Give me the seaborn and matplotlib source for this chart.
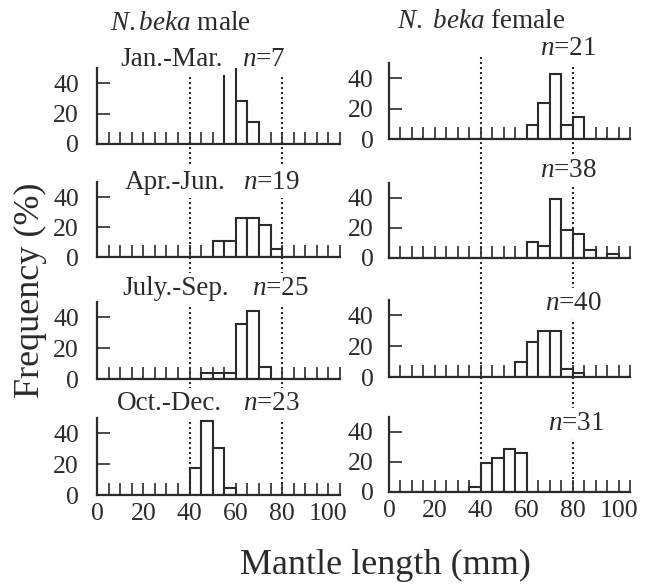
import numpy as np
import pandas as pd
import matplotlib
matplotlib.use("Agg")
import matplotlib.pyplot as plt
import matplotlib.transforms as mtransforms
from matplotlib.lines import Line2D
import seaborn as sns

sns.set_theme(style="ticks")
plt.rcParams["font.family"] = ["Liberation Serif", "DejaVu Serif"]
plt.rcParams["mathtext.fontset"] = "custom"
plt.rcParams["mathtext.rm"] = "Liberation Serif"
plt.rcParams["mathtext.it"] = "Liberation Serif:italic"

# ---------------- data ----------------
bin_edges = list(range(0, 110, 5))
periods = ["Jan.-Mar.", "Apr.-Jun.", "July.-Sep.", "Oct.-Dec."]
male_n = [7, 19, 25, 23]
female_n = [21, 38, 40, 31]

male_bins = [
    [55, 60, 65],
    [50, 55, 60, 65, 70, 75],
    [45, 50, 55, 60, 65, 70],
    [40, 45, 50, 55],
]
male_pct = [
    [57.1, 28.6, 14.3],
    [10.5, 10.5, 26.3, 26.3, 21.1, 5.3],
    [4.0, 4.0, 4.0, 36.0, 44.0, 8.0],
    [17.4, 47.8, 30.4, 4.3],
]
female_bins = [
    [60, 65, 70, 75, 80],
    [60, 65, 70, 75, 80, 85, 95],
    [55, 60, 65, 70, 75, 80],
    [35, 40, 45, 50, 55],
]
female_pct = [
    [9.5, 23.8, 42.9, 9.5, 14.3],
    [10.5, 7.9, 39.5, 18.4, 15.8, 5.3, 2.6],
    [10.0, 22.5, 30.0, 30.0, 5.0, 2.5],
    [3.2, 19.4, 22.6, 29.0, 25.8],
]
x_ticks = [0, 20, 40, 60, 80, 100]
x_minor = list(range(5, 110, 5))
y_ticks = [0, 20, 40]
ref_lines = [40, 80]

# ---------------- layout ----------------
W, H = 646, 586
INK = "#2b2b2b"
fig = plt.figure(figsize=(W / 100, H / 100), dpi=100)
fig.patch.set_facecolor("white")


def fx(px):
    return px / W


def fy(py):
    return 1 - py / H


left_x = (97, 340)
right_x = (389, 630)
left_rows = [(68, 144), (182, 257), (302, 379), (418, 495)]
right_rows = [(63, 139), (183, 258), (300, 377), (417, 492)]

TICK_FS = 18.5


def make_ax(xr, yr, bins, pct, bottom, ypad):
    ax = fig.add_axes([fx(xr[0]), fy(yr[1]), fx(xr[1] - xr[0]), (yr[1] - yr[0]) / H])
    df = pd.DataFrame({"length": [b + 2.5 for b in bins], "pct": pct})
    sns.histplot(data=df, x="length", weights="pct", bins=bin_edges, ax=ax,
                 color="white", edgecolor=INK, linewidth=1.5, alpha=1, stat="count")
    ax.set_xlim(0, 105)
    ax.set_ylim(0, 50)
    ax.set_xlabel("")
    ax.set_ylabel("")
    for s in ["top", "right"]:
        ax.spines[s].set_visible(False)
    for s in ["left", "bottom"]:
        ax.spines[s].set_linewidth(1.6)
        ax.spines[s].set_color(INK)
    ax.set_xticks(x_ticks)
    ax.set_xticks(x_minor, minor=True)
    ax.set_yticks(y_ticks)
    ax.tick_params(axis="both", which="both", direction="in", length=9,
                   width=1.2, color=INK, labelcolor=INK, labelsize=TICK_FS)
    ax.tick_params(axis="y", pad=ypad)
    ax.tick_params(axis="x", pad=6, labelbottom=bottom)
    ax.patch.set_alpha(0)
    return ax


left_axes, right_axes = [], []
for i in range(4):
    left_axes.append(make_ax(left_x, left_rows[i], male_bins[i], male_pct[i], i == 3, 13))
    right_axes.append(make_ax(right_x, right_rows[i], female_bins[i], female_pct[i], i == 3, 11))

# dotted reference lines spanning the column
for ax, (ytop, ybot) in [(left_axes[0], (77, left_rows[3][1])),
                         (right_axes[0], (57, right_rows[3][1]))]:
    tr = mtransforms.blended_transform_factory(ax.transData, fig.transFigure)
    for xv in ref_lines:
        fig.add_artist(Line2D([xv, xv], [fy(ytop), fy(ybot)], transform=tr,
                              color=INK, lw=1.5, linestyle=(0, (1, 1.4)), zorder=3))

box = dict(facecolor="white", edgecolor="none", boxstyle="square,pad=0.12")
LAB_FS = 19.5

# column titles
fig.text(fx(110), fy(30), r"$\mathit{N.beka}$ male", fontsize=LAB_FS, color=INK,
         va="baseline", ha="left", zorder=5)
fig.text(fx(397), fy(28), r"$\mathit{N.\ beka}$ female", fontsize=LAB_FS, color=INK,
         va="baseline", ha="left", zorder=5)

# period labels (male column) and n labels
male_lab_pos = [(120, 66), (125, 189), (122, 295), (117, 410)]
male_n_x = [242, 243, 252, 243]
female_n_pos = [(540, 55), (540, 177), (545, 310), (548, 430)]
for i in range(4):
    x, y = male_lab_pos[i]
    fig.text(fx(x), fy(y), periods[i], fontsize=LAB_FS, color=INK,
             va="baseline", ha="left", zorder=5, bbox=box)
    fig.text(fx(male_n_x[i]), fy(y), r"$n$=%d" % male_n[i], fontsize=LAB_FS,
             color=INK, va="baseline", ha="left", zorder=5, bbox=box)
    x, y = female_n_pos[i]
    fig.text(fx(x), fy(y), r"$n$=%d" % female_n[i], fontsize=LAB_FS,
             color=INK, va="baseline", ha="left", zorder=5, bbox=box)

fig.text(fx(30), fy(290), "Frequency (%)", fontsize=26, color=INK, rotation=90,
         ha="center", va="center")
fig.text(fx(385), fy(565), "Mantle length (mm)", fontsize=26, color=INK,
         ha="center", va="center")

fig.savefig("out.png", dpi=100, facecolor="white")
